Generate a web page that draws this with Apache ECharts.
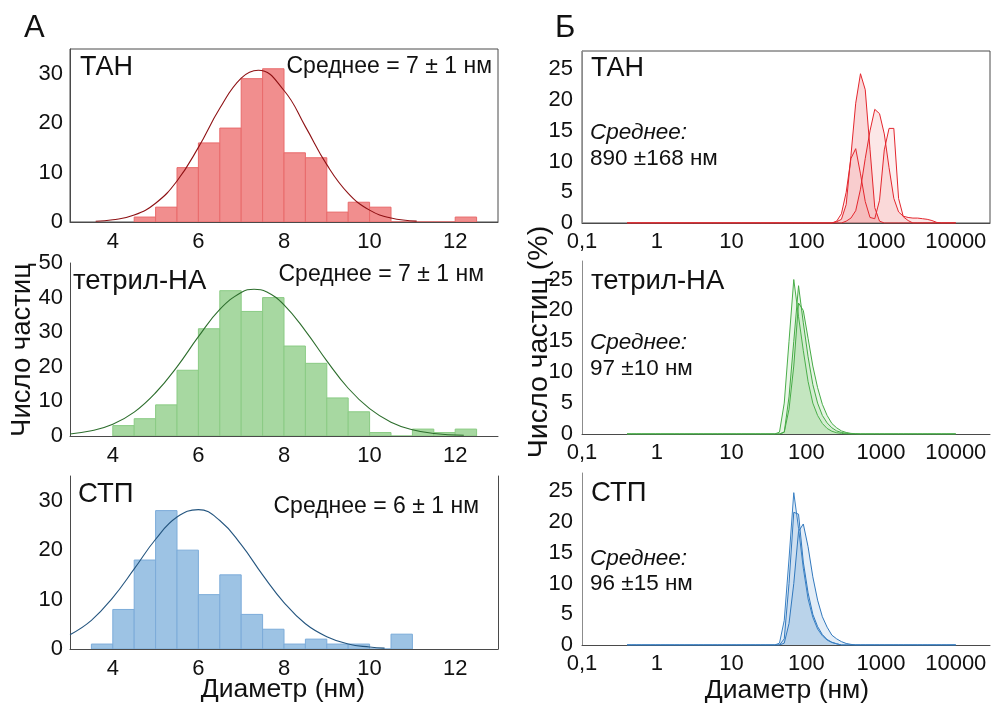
<!DOCTYPE html>
<html>
<head>
<meta charset="utf-8">
<script src="https://cdn.jsdelivr.net/npm/echarts@6/dist/echarts.min.js"></script>
<style>
  html, body { margin: 0; padding: 0; background: #fff; }
  #chart { width: 991px; height: 707px; }
</style>
</head>
<body>
<div id="chart"></div>
<script>
// ---- Panel A: TEM size histograms (bin width 0.5 nm) ----
const binWidth = 0.5;
const tanBins = [4.5, 5, 5.5, 6, 6.5, 7, 7.5, 8, 8.5, 9, 9.5, 10, 10.5, 11, 11.5, 12];
const tanCounts = [1, 3, 11, 16, 19, 29, 31, 14, 13, 2, 4, 3, 0, 0, 0, 1];
const tetBins = [4, 4.5, 5, 5.5, 6, 6.5, 7, 7.5, 8, 8.5, 9, 9.5, 10, 10.5, 11, 11.5, 12];
const tetCounts = [3, 5, 9, 19, 31, 42, 36, 40, 26, 21, 11, 7, 1, 0, 2, 1, 2];
const stpBins = [3.5, 4, 4.5, 5, 5.5, 6, 6.5, 7, 7.5, 8, 8.5, 9, 9.5, 10, 10.5];
const stpCounts = [1, 8, 18, 28, 20, 11, 15, 7, 4, 1, 2, 1, 1, 0, 3];

// Normal-fit curves drawn over the histograms
const fitTanX = [3.6, 4, 4.5, 5, 5.5, 6, 6.5, 7, 7.4, 8, 8.5, 9, 9.5, 10, 10.5, 11.1];
const fitTanY = [0.15, 0.44, 1.4, 3.8, 8.3, 15.1, 23.0, 29.1, 30.7, 26.6, 19.3, 11.6, 5.8, 2.4, 0.8, 0.18];
const fitTetX = [3, 3.5, 4, 4.5, 5, 5.5, 6, 6.5, 7, 7.3, 7.6, 8, 8.5, 9, 9.5, 10, 10.5, 11, 11.5, 12.2];
const fitTetY = [0.6, 1.5, 3.4, 6.9, 12.5, 20.0, 28.7, 36.6, 41.5, 42.4, 41.6, 37.9, 30.4, 21.7, 13.8, 7.9, 4.0, 1.8, 0.7, 0.2];
const fitStpX = [3, 3.5, 4, 4.5, 5, 5.5, 6, 6.5, 7, 7.5, 8, 8.5, 9, 9.5, 10, 10.35];
const fitStpY = [2.9, 5.8, 10.4, 16.2, 22.2, 26.7, 28.2, 26.0, 21.1, 15.0, 9.4, 5.1, 2.5, 1.0, 0.4, 0.18];

// ---- Panel Б: DLS number distributions, three runs per sample ----
const dlsSize = [
  0.4, 0.4632, 0.5365, 0.6213, 0.7195, 0.8332, 0.9649, 1.117, 1.294, 1.499,
  1.736, 2.01, 2.328, 2.696, 3.122, 3.615, 4.187, 4.849, 5.615, 6.503,
  7.531, 8.721, 10.1, 11.7, 13.54, 15.69, 18.17, 21.04, 24.36, 28.21,
  32.67, 37.84, 43.82, 50.75, 58.77, 68.06, 78.82, 91.28, 105.7, 122.4,
  141.8, 164.2, 190.1, 220.2, 255, 295.3, 342, 396.1, 458.7, 531.2,
  615.1, 712.4, 825, 955.4, 1106, 1281, 1484, 1718, 1990, 2305,
  2669, 3091, 3580, 4145, 4801, 5560, 6439, 7456, 8635, 10000
];
const tanRun1 = [
  0, 0, 0, 0, 0, 0, 0, 0, 0, 0,
  0, 0, 0, 0, 0, 0, 0, 0, 0, 0,
  0, 0, 0, 0, 0, 0, 0, 0, 0, 0,
  0, 0, 0, 0, 0, 0, 0, 0, 0, 0,
  0, 0, 0, 0, 0.2, 0.6, 3, 11, 19.5, 24.3,
  21.7, 12, 2.5, 0.3, 0, 0, 0, 0, 0, 0,
  0, 0, 0, 0, 0, 0, 0, 0, 0, 0
];
const tanRun2 = [
  0, 0, 0, 0, 0, 0, 0, 0, 0, 0,
  0, 0, 0, 0, 0, 0, 0, 0, 0, 0,
  0, 0, 0, 0, 0, 0, 0, 0, 0, 0,
  0, 0, 0, 0, 0, 0, 0, 0, 0, 0,
  0, 0, 0, 0, 0.3, 1.5, 5, 10.5, 12.1, 8,
  3.5, 0.9, 0.7, 3.7, 11.9, 15.4, 15.4, 4, 1, 0.4,
  0, 0, 0, 0, 0, 0, 0, 0, 0, 0
];
const tanRun3 = [
  0, 0, 0, 0, 0, 0, 0, 0, 0, 0,
  0, 0, 0, 0, 0, 0, 0, 0, 0, 0,
  0, 0, 0, 0, 0, 0, 0, 0, 0, 0,
  0, 0, 0, 0, 0, 0, 0, 0, 0, 0,
  0, 0, 0, 0, 0, 0, 0.3, 0.8, 2, 5.5,
  10.5, 15, 18.5, 17.8, 14.5, 9, 4, 1.8, 1.1, 0.9,
  0.8, 0.8, 0.7, 0.6, 0.4, 0.1, 0, 0, 0, 0
];
const tetRun1 = [
  0, 0, 0, 0, 0, 0, 0, 0, 0, 0,
  0, 0, 0, 0, 0, 0, 0, 0, 0, 0,
  0, 0, 0, 0, 0, 0, 0, 0, 0, 0,
  0, 0, 0.3, 5, 15, 25, 19, 13.5, 8.5, 5,
  3, 1.7, 0.9, 0.45, 0.2, 0.1, 0, 0, 0, 0,
  0, 0, 0, 0, 0, 0, 0, 0, 0, 0,
  0, 0, 0, 0, 0, 0, 0, 0, 0, 0
];
const tetRun2 = [
  0, 0, 0, 0, 0, 0, 0, 0, 0, 0,
  0, 0, 0, 0, 0, 0, 0, 0, 0, 0,
  0, 0, 0, 0, 0, 0, 0, 0, 0, 0,
  0, 0, 0, 0.3, 6, 15, 24, 18, 12.5, 8,
  5, 3, 1.8, 1, 0.5, 0.25, 0.1, 0, 0, 0,
  0, 0, 0, 0, 0, 0, 0, 0, 0, 0,
  0, 0, 0, 0, 0, 0, 0, 0, 0, 0
];
const tetRun3 = [
  0, 0, 0, 0, 0, 0, 0, 0, 0, 0,
  0, 0, 0, 0, 0, 0, 0, 0, 0, 0,
  0, 0, 0, 0, 0, 0, 0, 0, 0, 0,
  0, 0, 0, 0.3, 4, 11, 21.2, 20, 15.5, 11,
  7.5, 4.8, 3, 1.7, 1, 0.5, 0.25, 0.1, 0.05, 0,
  0, 0, 0, 0, 0, 0, 0, 0, 0, 0,
  0, 0, 0, 0, 0, 0, 0, 0, 0, 0
];
const stpRun1 = [
  0, 0, 0, 0, 0, 0, 0, 0, 0, 0,
  0, 0, 0, 0, 0, 0, 0, 0, 0, 0,
  0, 0, 0, 0, 0, 0, 0, 0, 0, 0,
  0, 0, 0.3, 4, 14, 24.8, 19, 12.5, 7.5, 4.5,
  2.6, 1.5, 0.8, 0.4, 0.2, 0, 0, 0, 0, 0,
  0, 0, 0, 0, 0, 0, 0, 0, 0, 0,
  0, 0, 0, 0, 0, 0, 0, 0, 0, 0
];
const stpRun2 = [
  0, 0, 0, 0, 0, 0, 0, 0, 0, 0,
  0, 0, 0, 0, 0, 0, 0, 0, 0, 0,
  0, 0, 0, 0, 0, 0, 0, 0, 0, 0,
  0, 0, 0, 1, 10, 21.6, 21.3, 13.5, 8.5, 5,
  3, 1.7, 0.9, 0.45, 0.2, 0, 0, 0, 0, 0,
  0, 0, 0, 0, 0, 0, 0, 0, 0, 0,
  0, 0, 0, 0, 0, 0, 0, 0, 0, 0
];
const stpRun3 = [
  0, 0, 0, 0, 0, 0, 0, 0, 0, 0,
  0, 0, 0, 0, 0, 0, 0, 0, 0, 0,
  0, 0, 0, 0, 0, 0, 0, 0, 0, 0,
  0, 0, 0, 0.3, 3.5, 10, 18.5, 19.7, 16, 11.1,
  7.3, 4.6, 2.9, 1.6, 1, 0.55, 0.25, 0.1, 0, 0,
  0, 0, 0, 0, 0, 0, 0, 0, 0, 0,
  0, 0, 0, 0, 0, 0, 0, 0, 0, 0
];

// Tick values
const histXTicks = [4, 6, 8, 10, 12];
const dlsYTicks = [0, 5, 10, 15, 20, 25];

// ---- styling ----
const FONT = '"Liberation Sans", Arial, Helvetica, sans-serif';
const TXT = '#111';
const AXIS_DARK = '#4a4a4a';
const AXIS_GRAY = '#8c8c8c';

const chart = echarts.init(document.getElementById('chart'), null, { renderer: 'canvas' });

const grids = [
  { left: 70, top: 49, width: 428, height: 173, show: true, borderColor: AXIS_DARK, borderWidth: 1 },
  { left: 70, top: 263, width: 428, height: 173 },
  { left: 70, top: 476, width: 428, height: 173 },
  { left: 582, top: 51, width: 408, height: 172, show: true, borderColor: AXIS_DARK, borderWidth: 1 },
  { left: 582, top: 261, width: 408, height: 173 },
  { left: 582, top: 473, width: 408, height: 172 }
].map(g => Object.assign({ containLabel: false, outerBoundsMode: 'none' }, g));

const labelStyle = { color: TXT, fontSize: 22, fontFamily: FONT };

function histXAxis(i) {
  return {
    type: 'value', gridIndex: i, min: 3, max: 13, interval: 1,
    axisLine: { show: true, lineStyle: { color: AXIS_DARK, width: 1 } },
    axisTick: { show: false }, splitLine: { show: false },
    axisLabel: Object.assign({}, labelStyle, {
      margin: 9,
      formatter: v => (histXTicks.indexOf(v) >= 0 ? String(v) : '')
    })
  };
}
function histYAxis(i, max) {
  return {
    type: 'value', gridIndex: i, min: 0, max: max, interval: 10,
    axisLine: { show: true, lineStyle: { color: AXIS_DARK, width: 1 } },
    axisTick: { show: false }, splitLine: { show: false },
    axisLabel: Object.assign({}, labelStyle, {
      margin: 7,
      formatter: v => (v % 10 === 0 ? String(v) : '')
    })
  };
}
function dlsXAxis(i) {
  return {
    type: 'log', logBase: 10, gridIndex: i, min: 0.1, max: 28700,
    axisLine: { show: true, onZero: false, lineStyle: { color: AXIS_DARK, width: 1 } },
    axisTick: { show: false }, splitLine: { show: false }, minorTick: { show: false },
    axisLabel: Object.assign({}, labelStyle, {
      margin: 8,
      formatter: v => {
        const l = Math.log10(v);
        if (Math.abs(l - Math.round(l)) > 1e-6) return '';
        const r = Math.pow(10, Math.round(l));
        return r < 1 ? String(r).replace('.', ',') : String(r);
      }
    })
  };
}
function dlsYAxis(i) {
  return {
    type: 'value', gridIndex: i, min: 0, max: 28, interval: 5,
    axisLine: { show: true, lineStyle: { color: AXIS_GRAY, width: 1 } },
    axisTick: { show: false }, splitLine: { show: false },
    axisLabel: Object.assign({}, labelStyle, {
      margin: 9,
      formatter: v => (dlsYTicks.indexOf(v) >= 0 ? String(v) : '')
    })
  };
}

const xAxes = [histXAxis(0), histXAxis(1), histXAxis(2), dlsXAxis(3), dlsXAxis(4), dlsXAxis(5)];
const yAxes = [
  histYAxis(0, 35), histYAxis(1, 50), histYAxis(2, 35),
  dlsYAxis(3), dlsYAxis(4), dlsYAxis(5),
  // right-hand frame edge of the lower histogram
  {
    type: 'value', gridIndex: 2, position: 'right', min: 0, max: 35,
    axisLine: { show: true, lineStyle: { color: AXIS_DARK, width: 1 } },
    axisTick: { show: false }, axisLabel: { show: false }, splitLine: { show: false }
  }
];

function histSeries(idx, bins, counts, fill, stroke) {
  return {
    type: 'custom', xAxisIndex: idx, yAxisIndex: idx, clip: true,
    data: bins.map((b, k) => [b, counts[k]]),
    encode: { x: 0, y: 1 },
    renderItem: (params, api) => {
      const x0 = api.value(0);
      const h = api.value(1);
      const p0 = api.coord([x0, 0]);
      const p1 = api.coord([x0 + binWidth, h]);
      return {
        type: 'rect',
        shape: { x: p0[0], y: p1[1], width: p1[0] - p0[0], height: p0[1] - p1[1] },
        style: { fill: fill, stroke: stroke, lineWidth: 1 }
      };
    },
    z: 2
  };
}
function fitSeries(idx, xs, ys, color) {
  return {
    type: 'line', xAxisIndex: idx, yAxisIndex: idx, smooth: 0.45, symbol: 'none',
    data: xs.map((x, k) => [x, ys[k]]),
    lineStyle: { color: color, width: 1.1 }, z: 3, silent: true
  };
}
function dlsSeries(idx, run, lineColor, areaColor) {
  return {
    type: 'line', xAxisIndex: idx, yAxisIndex: idx, smooth: false, symbol: 'none',
    data: dlsSize.map((s, k) => [s, run[k]]),
    lineStyle: { color: lineColor, width: 1 },
    areaStyle: { color: areaColor },
    z: 3, silent: true
  };
}

const series = [
  histSeries(0, tanBins, tanCounts, '#f18e8e', '#e86a6b'),
  histSeries(1, tetBins, tetCounts, '#a7d8a1', '#8acb84'),
  histSeries(2, stpBins, stpCounts, '#9dc3e4', '#7cacd9'),
  fitSeries(0, fitTanX, fitTanY, '#8e1114'),
  fitSeries(1, fitTetX, fitTetY, '#2d6e2d'),
  fitSeries(2, fitStpX, fitStpY, '#24557f'),

  dlsSeries(3, tanRun1, '#e3262d', 'rgba(232,85,90,0.32)'),
  dlsSeries(3, tanRun3, '#e3262d', 'rgba(236,95,100,0.22)'),
  dlsSeries(3, tanRun2, '#e3262d', 'rgba(240,110,115,0.16)'),

  dlsSeries(4, tetRun3, '#45aa45', 'rgba(110,195,100,0.24)'),
  dlsSeries(4, tetRun2, '#45aa45', 'rgba(110,195,100,0.22)'),
  dlsSeries(4, tetRun1, '#4aae4a', 'rgba(110,195,100,0.22)'),

  dlsSeries(5, stpRun3, '#3178bd', 'rgba(90,150,205,0.24)'),
  dlsSeries(5, stpRun2, '#3178bd', 'rgba(90,150,205,0.24)'),
  dlsSeries(5, stpRun1, '#3a80c4', 'rgba(90,150,205,0.22)')
];

function txt(x, y, text, size, opts) {
  opts = opts || {};
  return {
    type: 'text', x: x, y: y, rotation: opts.rotation || 0, z: 10, silent: true,
    style: {
      text: text, fill: TXT,
      font: (opts.italic ? 'italic ' : '') + size + 'px ' + FONT,
      textAlign: opts.align || 'left', textVerticalAlign: 'middle'
    }
  };
}

const graphics = [
  txt(24, 28, 'А', 31),
  txt(555, 28, 'Б', 31),

  txt(80, 68, 'ТАН', 27),
  txt(492, 67, 'Среднее = 7 ± 1 нм', 23, { align: 'right' }),
  txt(73, 281, 'тетрил-НА', 27.5),
  txt(484, 275, 'Среднее = 7 ± 1 нм', 23, { align: 'right' }),
  txt(78, 494, 'СТП', 27.5),
  txt(479, 507, 'Среднее = 6 ± 1 нм', 23, { align: 'right' }),

  txt(591, 69, 'ТАН', 27),
  txt(590, 133, 'Среднее:', 22.5, { italic: true }),
  txt(590, 159, '890 ±168 нм', 22.5),
  txt(591, 281, 'тетрил-НА', 27.5),
  txt(590, 343, 'Среднее:', 22.5, { italic: true }),
  txt(590, 369, '97 ±10 нм', 22.5),
  txt(591, 493, 'СТП', 27.5),
  txt(590, 559, 'Среднее:', 22.5, { italic: true }),
  txt(590, 584, '96 ±15 нм', 22.5),

  txt(22, 350, 'Число частиц', 27.5, { align: 'center', rotation: Math.PI / 2 }),
  txt(539, 342, 'Число частиц (%)', 28.5, { align: 'center', rotation: Math.PI / 2 }),
  txt(283, 690, 'Диаметр (нм)', 26.5, { align: 'center' }),
  txt(787, 691, 'Диаметр (нм)', 26.5, { align: 'center' })
];

chart.setOption({
  animation: false,
  backgroundColor: '#ffffff',
  textStyle: { fontFamily: FONT },
  grid: grids,
  xAxis: xAxes,
  yAxis: yAxes,
  series: series,
  graphic: graphics
});
</script>
</body>
</html>
